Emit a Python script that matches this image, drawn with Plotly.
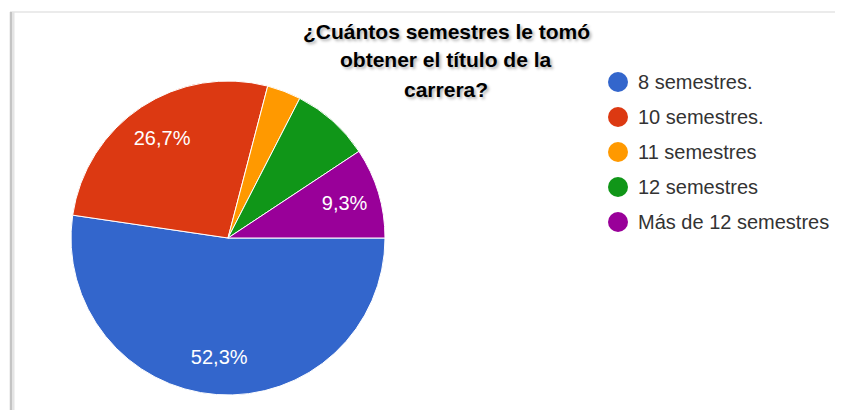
import plotly.graph_objects as go

# Data
categories = ["8 semestres.", "10 semestres.", "11 semestres", "12 semestres", "Más de 12 semestres"]
counts = [45, 23, 3, 7, 8]
colors = ["#3366cc", "#dc3912", "#ff9900", "#109618", "#990099"]
title_lines = ["¿Cuántos semestres le tomó", "obtener el título de la", "carrera?"]

total = sum(counts)
labels_txt = []
for c in counts:
    p = c / total * 100
    labels_txt.append(f"{p:.1f}%".replace(".", ",") if p >= 9 else "")

OFF = 8  # page body margin
W, H = 843 - OFF, 410 - OFF


def px(x):
    return (x - OFF) / W


def py(y):
    return 1 - (y - OFF) / H


cx, cy, r = 228, 238, 157
dom = dict(x=[px(cx - r), px(cx + r)], y=[py(cy + r), py(cy - r)])

fig = go.Figure()
fig.add_trace(go.Pie(
    labels=categories, values=counts, textinfo="none", sort=False,
    direction="clockwise", rotation=90,
    marker=dict(colors=colors, line=dict(color="white", width=1)),
    showlegend=False, hoverinfo="label+percent", domain=dom,
))
# transparent ring carrying the percentage labels
fig.add_trace(go.Pie(
    labels=categories, values=counts, text=labels_txt, textinfo="text",
    textposition="inside", insidetextorientation="horizontal", hole=0.52,
    sort=False, direction="clockwise", rotation=90,
    marker=dict(colors=["rgba(0,0,0,0)"] * len(counts), line=dict(width=0)),
    textfont=dict(family="Arial, Liberation Sans", size=20, color="white"),
    showlegend=False, hoverinfo="skip", domain=dom,
))

shapes = []
annotations = []
# frame
shapes.append(dict(type="line", xref="paper", yref="paper", x0=px(10), x1=1, y0=py(12), y1=py(12),
                   line=dict(color="#e4e4e4", width=1.5)))
shapes.append(dict(type="line", xref="paper", yref="paper", x0=px(12), x1=px(12), y0=0, y1=py(12),
                   line=dict(color="#e4e4e4", width=5)))
shapes.append(dict(type="line", xref="paper", yref="paper", x0=px(11), x1=px(11), y0=0, y1=py(12),
                   line=dict(color="#c4c4c4", width=2)))

# title lines
for i, t in enumerate(title_lines):
    annotations.append(dict(xref="paper", yref="paper", x=px(446), y=py(31 + 29 * i), text=f"<b>{t}</b>",
                            showarrow=False, xanchor="center", yanchor="middle",
                            font=dict(family="Arial, Liberation Sans", size=21, color="black",
                                      shadow="2px 2px 3px rgba(0,0,0,0.3)")))

# custom legend
leg_x = 618
leg_y0 = 82
leg_dy = 35
for i, (cat, col) in enumerate(zip(categories, colors)):
    yy = py(leg_y0 + i * leg_dy)
    shapes.append(dict(type="circle", xref="paper", yref="paper", xsizemode="pixel", ysizemode="pixel",
                       xanchor=px(leg_x), yanchor=yy, x0=-10, x1=10, y0=-10, y1=10,
                       fillcolor=col, line=dict(color=col, width=0)))
    annotations.append(dict(xref="paper", yref="paper", x=px(leg_x + 18), y=yy, text=cat,
                            showarrow=False, xanchor="left", yanchor="middle",
                            font=dict(family="Arial, Liberation Sans", size=20, color="#333333")))

fig.update_layout(
    width=W, height=H,
    margin=dict(l=0, r=0, t=0, b=0),
    paper_bgcolor="white",
    plot_bgcolor="white",
    shapes=shapes,
    annotations=annotations,
)

fig.write_html("out.html")
